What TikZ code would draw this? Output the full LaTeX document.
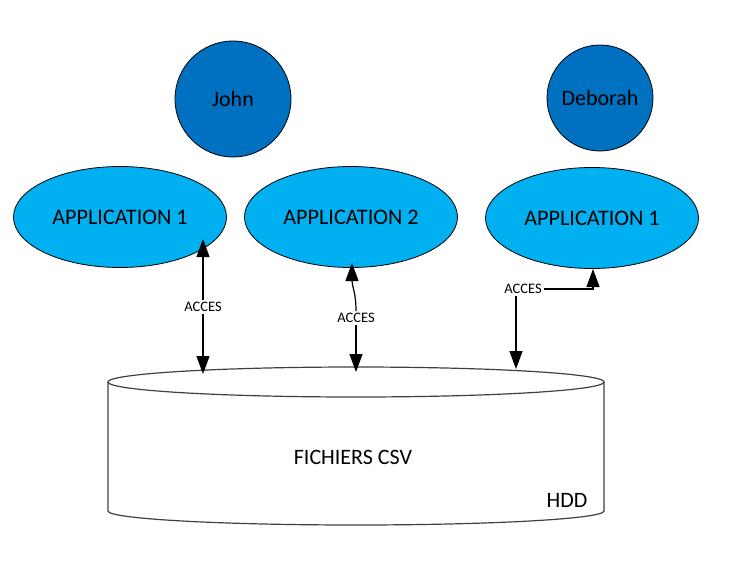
\documentclass[tikz,border=0pt]{standalone}
\usepackage{fontspec}
\setmainfont{Carlito}
\usetikzlibrary{shapes.geometric,arrows.meta}
\definecolor{userblue}{HTML}{0070C0}
\definecolor{appblue}{HTML}{00B0F0}
\begin{document}
\begin{tikzpicture}[x=1pt,y=1pt,
  user/.style={circle, draw=black, line width=0.8pt, fill=userblue, inner sep=0pt, font=\fontsize{22}{26}\selectfont},
  app/.style={ellipse, draw=black, line width=0.8pt, fill=appblue, inner sep=0pt, minimum width=213pt, minimum height=101pt, font=\fontsize{22.2}{26}\selectfont},
  lbl/.style={inner sep=2pt, font=\fontsize{14.5}{17}\selectfont},
  link/.style={-{Triangle[width=13pt,length=18pt]}, line width=1.2pt, black}]

\useasboundingbox (0,0) rectangle (737,-563);

% Users
\node[user, minimum size=116pt] (john) at (233,-99) {John};
\node[user, minimum size=106pt] (deborah) at (600,-98) {Deborah};

% Applications
\node[app] (app1) at (120,-217) {APPLICATION 1};
\node[app] (app2) at (351,-217) {APPLICATION 2};
\node[app] (app3) at (592,-218) {APPLICATION 1};

% HDD
\draw[black!75, line width=1.2pt, fill=white] (108,-382) -- (108,-511) arc[start angle=180, end angle=360, x radius=248, y radius=14] -- (604,-382);
\draw[black!75, line width=1.2pt, fill=white] (356,-382) ellipse[x radius=248, y radius=15];
\node[font=\fontsize{22}{26}\selectfont] (csv) at (353,-457) {FICHIERS CSV};
\node[font=\fontsize{22}{26}\selectfont] (hdd) at (567,-500) {HDD};

% Access 1
\coordinate (a1top) at (203,-239);
\coordinate (a1bot) at (203,-374);
\node[lbl] (acc1) at (203,-307) {ACCES};
\draw[link] (acc1) -- (a1top);
\draw[link] (acc1) -- (a1bot);

% Access 2
\coordinate (a2top) at (352,-263);
\coordinate (a2bot) at (356,-372);
\node[lbl] (acc2) at (356,-318) {ACCES};
\draw[link] (acc2.north) .. controls (356,-292) and (352,-287) .. (a2top);
\draw[link] (acc2) -- (a2bot);

% Access 3
\coordinate (a3top) at (593,-269);
\coordinate (a3bot) at (516,-369);
\node[lbl] (acc3) at (523,-289) {ACCES};
\draw[link] (acc3.east) -| (a3top);
\draw[link] (acc3.south -| a3bot) -- (a3bot);

\end{tikzpicture}
\end{document}
